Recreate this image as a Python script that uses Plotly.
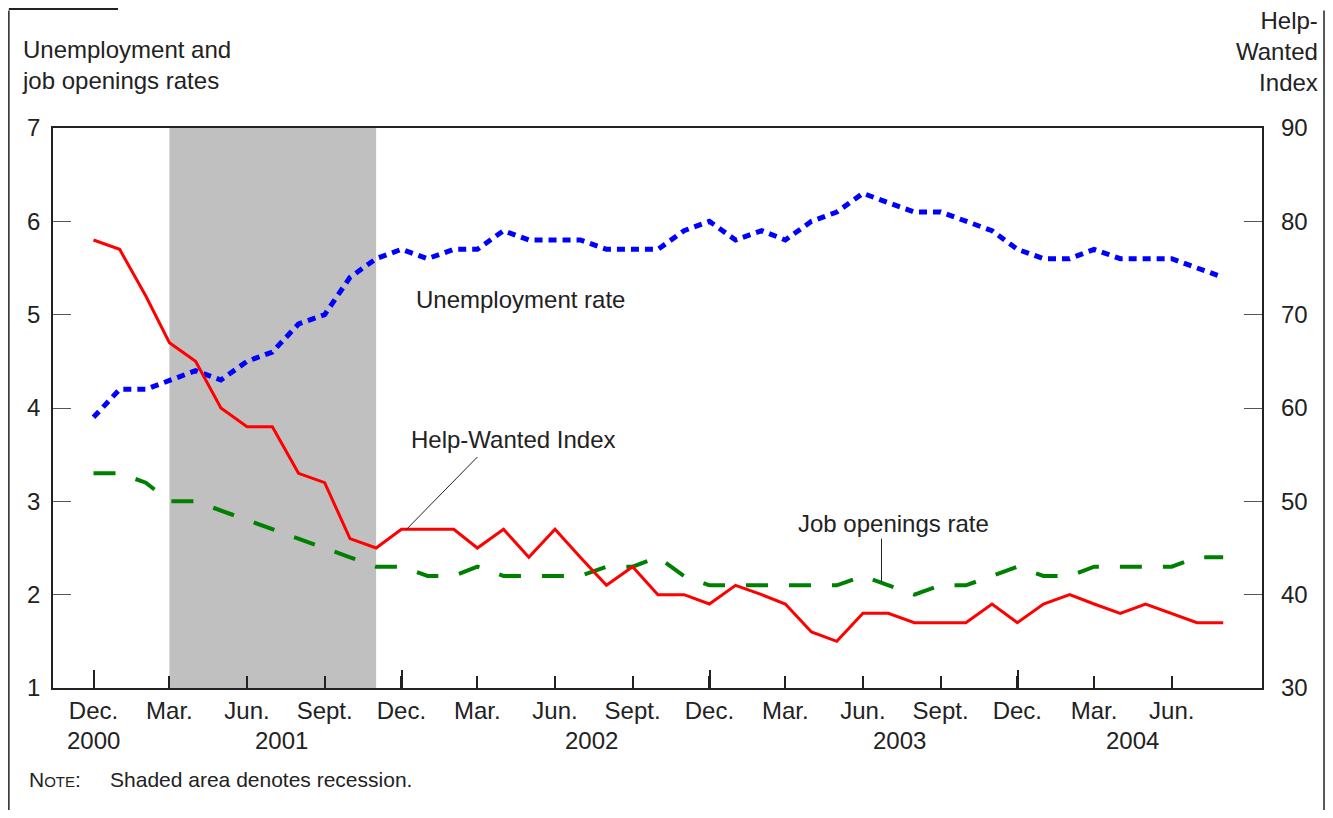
import pandas as pd
import plotly.graph_objects as go

# monthly observations, Dec. 2000 - Aug. 2004
months = pd.date_range("2000-12-01", periods=45, freq="MS")

unemployment_rate = [
    3.9, 4.2, 4.2, 4.3, 4.4, 4.3, 4.5, 4.6, 4.9, 5.0, 5.4, 5.6,
    5.7, 5.6, 5.7, 5.7, 5.9, 5.8, 5.8, 5.8, 5.7, 5.7, 5.7, 5.9,
    6.0, 5.8, 5.9, 5.8, 6.0, 6.1, 6.3, 6.2, 6.1, 6.1, 6.0, 5.9,
    5.7, 5.6, 5.6, 5.7, 5.6, 5.6, 5.6, 5.5, 5.4,
]
job_openings_rate = [
    3.3, 3.3, 3.2, 3.0, 3.0, 2.9, 2.8, 2.7, 2.6, 2.5, 2.4, 2.3,
    2.3, 2.2, 2.2, 2.3, 2.2, 2.2, 2.2, 2.2, 2.3, 2.3, 2.4, 2.2,
    2.1, 2.1, 2.1, 2.1, 2.1, 2.1, 2.2, 2.1, 2.0, 2.1, 2.1, 2.2,
    2.3, 2.2, 2.2, 2.3, 2.3, 2.3, 2.3, 2.4, 2.4,
]
help_wanted_index = [
    78, 77, 72, 67, 65, 60, 58, 58, 53, 52, 46, 45,
    47, 47, 47, 45, 47, 44, 47, 44, 41, 43, 40, 40,
    39, 41, 40, 39, 36, 35, 38, 38, 37, 37, 37, 39,
    37, 39, 40, 39, 38, 39, 38, 37, 37,
]

tick_dates = pd.date_range("2000-12-01", "2004-06-01", freq="3MS")
tick_labels = ["Dec.", "Mar.", "Jun.", "Sept."] * 4
tick_labels = tick_labels[:len(tick_dates)]
year_labels = ["2000", "2001", "2002", "2003", "2004"]
year_positions = ["2000-12-01", "2001-07-12", "2002-07-14", "2003-07-14", "2004-04-15"]

recession_start = "2001-03-01"
recession_end = "2001-11-01"

FONT = "Liberation Sans, Arial, sans-serif"
TEXT = "#222222"
SIZE = 24

fig = go.Figure()

fig.add_vrect(x0=recession_start, x1=recession_end, fillcolor="#c0c0c0",
              line_width=0, layer="below")

fig.add_trace(go.Scatter(
    x=months, y=unemployment_rate, mode="lines", name="Unemployment rate",
    line=dict(color="#0000ff", width=5, dash="8px,6px"),
))
fig.add_trace(go.Scatter(
    x=months, y=job_openings_rate, mode="lines", name="Job openings rate",
    line=dict(color="#008000", width=4, dash="22px,21px"),
))
fig.add_trace(go.Scatter(
    x=months, y=help_wanted_index, mode="lines", name="Help-Wanted Index",
    yaxis="y2", line=dict(color="#ff0000", width=3),
))

annotations = [
    dict(xref="paper", yref="paper", x=0.387, y=0.6946, text="Unemployment rate"),
    dict(xref="paper", yref="paper", x=0.3805, y=0.4446, text="Help-Wanted Index"),
    dict(xref="paper", yref="paper", x=0.6956, y=0.2946, text="Job openings rate"),
    dict(xref="paper", yref="paper", x=-0.0273, y=1.1125, xanchor="left", align="left",
         text="Unemployment and<br>job openings rates"),
    dict(xref="paper", yref="paper", x=1.048, y=1.1375, xanchor="right", align="right",
         text="Help-<br>Wanted<br>Index"),
    dict(xref="paper", yref="paper", x=-0.0215, y=-0.164, xanchor="left",
         text="N<span style='font-size:15px'>OTE</span>:&nbsp;&nbsp;&nbsp;&nbsp;&nbsp;"
              "Shaded area denotes recession.",
         font=dict(size=21, color=TEXT, family=FONT)),
]
for label, pos in zip(year_labels, year_positions):
    annotations.append(dict(xref="x", yref="paper", x=pos, y=-0.0946, text=label))
for a in annotations:
    a.setdefault("showarrow", False)
    a.setdefault("font", dict(size=SIZE, color=TEXT, family=FONT))
    a.setdefault("xanchor", "center")
    a.setdefault("yanchor", "middle")

leader = dict(color="#222222", width=1)
frame = dict(color="#222222", width=1.5)
shapes = [
    dict(type="line", xref="x", yref="y", x0="2002-04-01", x1="2002-04-01",
         y0=5.88, y1=5.30, line=leader),
    dict(type="line", xref="x", yref="y2", x0="2001-12-07", x1="2002-03-01",
         y0=47.0, y1=54.75, line=leader),
    dict(type="line", xref="x", yref="y", x0="2003-06-23", x1="2003-06-23",
         y0=2.60, y1=2.14, line=leader),
    # page frame
    dict(type="line", xref="paper", yref="paper", x0=-0.0365, x1=-0.0365,
         y0=-0.24, y1=1.21, line=frame),
    dict(type="line", xref="paper", yref="paper", x0=1.0513, x1=1.0513,
         y0=-0.24, y1=1.21, line=frame),
    dict(type="line", xref="paper", yref="paper", x0=-0.0365, x1=0.0538,
         y0=1.2125, y1=1.2125, line=dict(color="#222222", width=2)),
]

# the page body has an 8px margin, so the figure is made smaller than the window
fig.update_layout(
    width=1317, height=802,
    margin=dict(l=45, r=63, t=120, b=122),
    paper_bgcolor="white", plot_bgcolor="white",
    showlegend=False,
    font=dict(family=FONT, size=SIZE, color=TEXT),
    annotations=annotations,
    shapes=shapes,
    xaxis=dict(
        type="date", range=["2000-10-14", "2004-09-16"], automargin=False,
        tickmode="array", tickvals=tick_dates, ticktext=tick_labels,
        ticks="inside", ticklen=12, tickwidth=1.5, tickcolor="#222222",
        minor=dict(tickmode="array",
                   tickvals=[d + pd.Timedelta(hours=6) for d in tick_dates if d.month == 12],
                   ticks="inside", ticklen=18, tickwidth=1.5, tickcolor="#222222"),
        showline=True, linecolor="#222222", linewidth=1.5, mirror=True,
        showgrid=False, zeroline=False,
        tickfont=dict(size=SIZE, color=TEXT),
    ),
    yaxis=dict(
        range=[1, 7], dtick=1, automargin=False,
        ticks="inside", ticklen=18, tickwidth=1, tickcolor="#555555",
        showline=True, linecolor="#222222", linewidth=1.5, mirror=True,
        showgrid=False, zeroline=False, ticklabelstandoff=6,
        tickfont=dict(size=SIZE, color=TEXT),
    ),
    yaxis2=dict(
        range=[30, 90], dtick=10, overlaying="y", side="right", automargin=False,
        ticks="inside", ticklen=18, tickwidth=1, tickcolor="#555555",
        showline=False, showgrid=False, zeroline=False, ticklabelstandoff=18,
        tickfont=dict(size=SIZE, color=TEXT),
    ),
)

fig.write_html("out.html")
